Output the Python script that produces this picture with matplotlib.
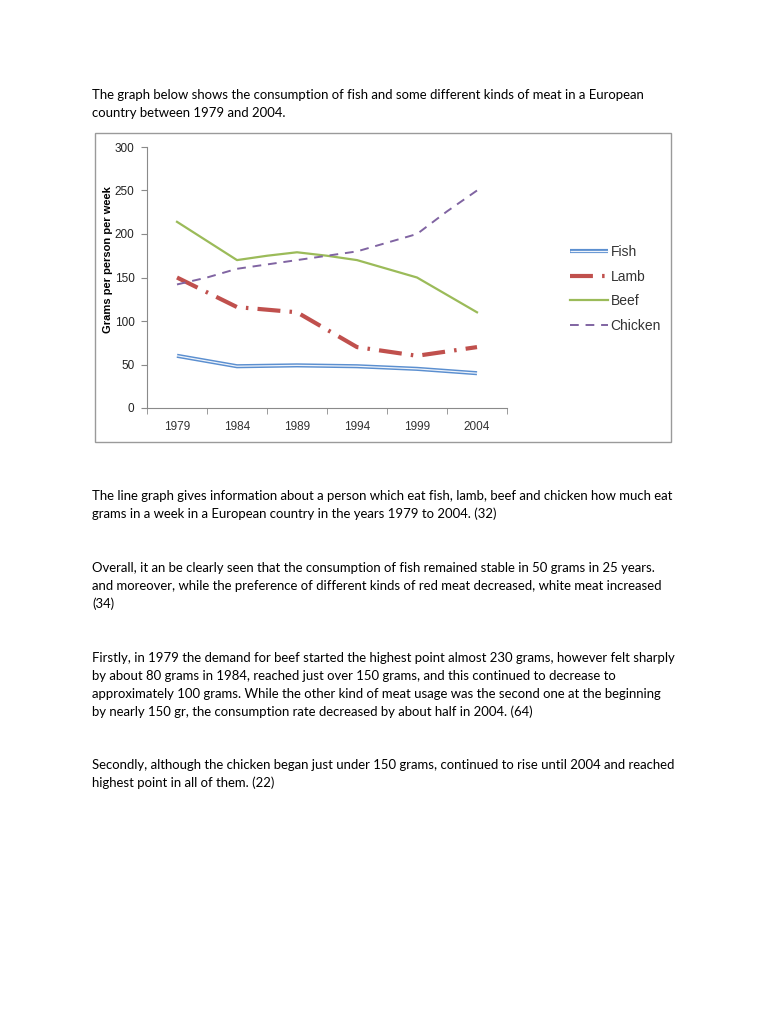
import matplotlib.pyplot as plt
import matplotlib.patheffects as pe
from matplotlib.patches import Rectangle

# data (values every 2.5 years)
years = [1979, 1981.5, 1984, 1986.5, 1989, 1991.5, 1994, 1996.5, 1999, 2001.5, 2004]
fish = [60, 54, 48, 48.5, 49, 48.5, 48, 46.5, 45, 42.5, 40]
lamb = [150, 133, 116, 113, 110, 90, 70, 65, 60, 65, 70]
beef = [214, 192, 170, 175, 179, 175, 170, 160, 150, 130, 110]
chicken = [142, 150, 160, 165, 170, 175, 180, 190, 200, 226, 250]
tick_years = [1979, 1984, 1989, 1994, 1999, 2004]

title_lines = [
    "The graph below shows the consumption of fish and some different kinds of meat in a European",
    "country between 1979 and 2004.",
]
paragraphs = [
    ["The line graph gives information about a person which eat fish, lamb, beef and chicken how much eat",
     "grams in a week in a European country in the years 1979 to 2004. (32)"],
    ["Overall, it an be clearly seen that the consumption of fish remained stable in 50 grams in 25 years.",
     "and moreover, while the preference of different kinds of red meat decreased, white meat increased",
     "(34)"],
    ["Firstly, in 1979 the demand for beef started the highest point almost 230 grams, however felt sharply",
     "by about 80 grams in 1984, reached just over 150 grams, and this continued to decrease to",
     "approximately 100 grams. While the other kind of meat usage was the second one at the beginning",
     "by nearly 150 gr, the consumption rate decreased by about half in 2004. (64)"],
    ["Secondly, although the chicken began just under 150 grams, continued to rise until 2004 and reached",
     "highest point in all of them. (22)"],
]
para_tops = [496, 568, 658, 765]

W, H = 768, 1024
fig = plt.figure(figsize=(W / 100, H / 100), dpi=100)
txt_font = dict(family="Lato", fontsize=9.45, color="black")

def fy(y):
    return 1 - y / H

# text of the page
for i, line in enumerate(title_lines):
    fig.text(92 / W, fy(95 + i * 18), line, va="center", ha="left", **txt_font)
for top, lines in zip(para_tops, paragraphs):
    for i, line in enumerate(lines):
        fig.text(92 / W, fy(top + i * 18), line, va="center", ha="left", **txt_font)

# chart frame
fig.patches.append(Rectangle((95 / W, fy(442)), (671 - 95) / W, (442 - 133) / H,
                             transform=fig.transFigure, fill=False,
                             edgecolor="#9a9a9a", linewidth=1.0))

ax = fig.add_axes([147 / W, fy(408), (507 - 147) / W, (408 - 147) / H])
ax.plot(years, fish, color="#5b8fd0", linewidth=3.0, label="Fish",
        solid_capstyle="butt",
        path_effects=[pe.Normal(), pe.Stroke(linewidth=0.9, foreground="#eef3fa")])
ax.plot(years, lamb, color="#c0504d", linewidth=3.0, label="Lamb",
        dashes=(5.5, 2.2, 0.6, 2.2))
ax.plot(years, beef, color="#9bbb59", linewidth=1.6, label="Beef")
ax.plot(years, chicken, color="#8064a2", linewidth=1.4, label="Chicken",
        dashes=(4.5, 3.5))

ax.set_xlim(1976.5, 2006.5)
ax.set_ylim(0, 300)
ax.set_yticks(range(0, 301, 50))
ax.set_xticks(tick_years)
ax.set_xticks([1976.5 + 5 * k for k in range(7)], minor=True)
ax.tick_params(axis="x", which="major", length=0, labelsize=8.5, colors="#333333", pad=9)
ax.tick_params(axis="x", which="minor", length=4, direction="out", color="#8a8a8a")
ax.tick_params(axis="y", length=4, direction="out", color="#8a8a8a",
               labelsize=8.5, labelcolor="#222222", pad=5)
for lbl in ax.get_yticklabels() + ax.get_xticklabels():
    lbl.set_fontfamily("Liberation Sans")
for s in ["top", "right"]:
    ax.spines[s].set_visible(False)
for s in ["left", "bottom"]:
    ax.spines[s].set_color("#8a8a8a")
ax.set_ylabel("Grams per person per week", fontsize=8, fontweight="bold",
              family="Liberation Sans")
ax.yaxis.set_label_coords(-0.094, 0.567)

leg = ax.legend(loc="center left", bbox_to_anchor=(557 / W, fy(289)),
                bbox_transform=fig.transFigure, frameon=False,
                prop={"family": "Liberation Sans", "size": 10},
                handlelength=2.8, handletextpad=0.15, labelspacing=0.76,
                labelcolor="#333333")

fig.savefig("out.png", dpi=100)
